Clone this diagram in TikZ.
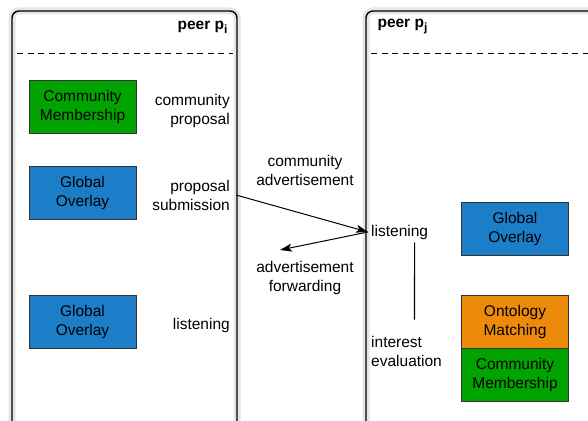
\documentclass[tikz,border=0pt]{standalone}
\usepackage{fontspec}
\setmainfont{Liberation Sans}
\usetikzlibrary{arrows.meta,positioning}
\definecolor{membergreen}{RGB}{0,163,0}
\definecolor{overlayblue}{RGB}{28,125,200}
\definecolor{ontologyorange}{RGB}{238,138,10}

\begin{document}
\begin{tikzpicture}[
    x=1pt, y=-1pt,
    every node/.style={font=\fontsize{15.5}{19}\selectfont},
    peerline/.style={line width=1.4pt, rounded corners=7pt},
    peershade/.style={line width=7pt, color=gray!20, rounded corners=7pt},
    separator/.style={dash pattern=on 6pt off 4.6pt, line width=0.9pt},
    member/.style={rectangle, draw=black!80, line width=0.8pt, fill=membergreen, minimum width=107pt, minimum height=53pt, align=center, inner sep=2pt},
    overlay/.style={rectangle, draw=black!80, line width=0.8pt, fill=overlayblue, minimum width=107pt, minimum height=53pt, align=center, inner sep=2pt},
    ontology/.style={rectangle, draw=black!80, line width=0.8pt, fill=ontologyorange, minimum width=107pt, minimum height=53pt, align=center, inner sep=2pt},
    step label/.style={align=right, anchor=east, inner sep=3pt},
    msg label/.style={align=center},
    arrow/.style={-{Stealth[length=12pt, width=8pt, inset=3pt]}, line width=1pt}
]
\useasboundingbox (0,0) rectangle (588,420);

% Peer lifelines
\draw[peershade] (12,430) -- (12,11) -- (237,11) -- (237,430);
\draw[peershade] (366,430) -- (366,11) -- (600,11);
\draw[peerline] (12,430) -- (12,11) -- (237,11) -- (237,430);
\draw[peerline] (366,430) -- (366,11) -- (600,11);
\draw[separator] (17,53) -- (233,53);
\draw[separator] (371,53) -- (590,53);

\node[anchor=east] (peeri) at (231,27) {\textbf{peer p\raisebox{-4pt}{\fontsize{12}{12}\selectfont i}}};
\node[anchor=west] (peerj) at (374,27) {\textbf{peer p\raisebox{-4pt}{\fontsize{12}{12}\selectfont j}}};

% Peer p_i modules
\node[member] (membi) at (82.5,107) {Community\\Membership};
\node[overlay] (overi) at (82.5,192.5) {Global\\Overlay};
\node[overlay] (overii) at (82.5,321.5) {Global\\Overlay};

\node[step label] (propose) at (233,111) {community\\proposal};
\node[step label] (submit) at (233,195) {proposal\\submission};
\node[step label] (listeni) at (233,325) {listening};

% Peer p_j modules
\node[overlay] (overj) at (515,229) {Global\\Overlay};
\node[ontology] (onto) at (515,321.5) {Ontology\\Matching};
\node[member, below=0pt of onto] (membj) {Community\\Membership};

\node[anchor=west, inner sep=3pt] (listenj) at (368,232) {listening};
\node[anchor=west, align=left, inner sep=3pt] (evalj) at (368,351) {interest\\evaluation};

% Messages
\node[msg label] (advert) at (305,170) {community\\advertisement};
\node[msg label] (forward) at (305,278) {advertisement\\forwarding};
\coordinate (fwdtip) at (280,250);

\draw[arrow] ([xshift=3pt]submit.east) -- (listenj.west);
\draw[arrow] (listenj.west) -- (fwdtip);
\draw[line width=1.2pt] ([xshift=15pt]listenj.south) -- ([xshift=8pt, yshift=13pt]evalj.north);

\end{tikzpicture}
\end{document}
